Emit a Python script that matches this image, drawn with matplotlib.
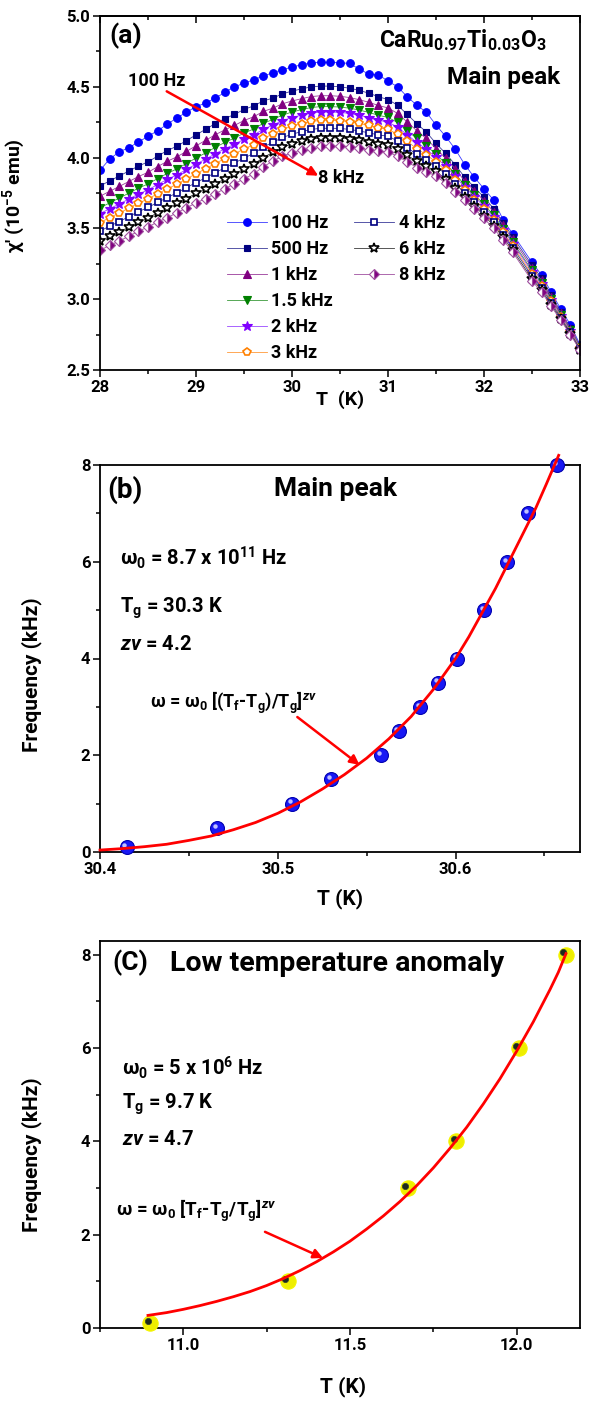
import matplotlib
matplotlib.use('Agg')
import matplotlib.pyplot as plt
import matplotlib.transforms as mtransforms
from matplotlib.ticker import MultipleLocator, FormatStrFormatter

FONT = 'Roboto'
plt.rcParams.update({
    'font.family': [FONT, 'DejaVu Sans'],
    'font.weight': 'bold',
    'axes.labelweight': 'bold',
    'mathtext.fontset': 'custom',
    'mathtext.rm': FONT + ':bold',
    'mathtext.it': FONT + ':italic:bold',
    'mathtext.bf': FONT + ':bold',
    'mathtext.default': 'regular',
    'axes.linewidth': 1.3,
})

# ---------------- data: panel (a) ----------------
T_a = [28.0, 28.1, 28.2, 28.3, 28.4, 28.5, 28.6, 28.7, 28.8, 28.9,
       29.0, 29.1, 29.2, 29.3, 29.4, 29.5, 29.6, 29.7, 29.8, 29.9,
       30.0, 30.1, 30.2, 30.3, 30.4, 30.5, 30.6, 30.7, 30.8, 30.9,
       31.0, 31.1, 31.2, 31.3, 31.4, 31.5, 31.6, 31.7, 31.8, 31.9,
       32.0, 32.1, 32.2, 32.3, 32.5, 32.6, 32.7, 32.8, 32.9, 33.0]

chi_100Hz = [3.91, 3.99, 4.04, 4.07, 4.11, 4.15, 4.19, 4.235, 4.28, 4.32,
             4.36, 4.385, 4.42, 4.46, 4.50, 4.525, 4.55, 4.575, 4.60, 4.62,
             4.64, 4.655, 4.67, 4.672, 4.672, 4.67, 4.665, 4.625, 4.59, 4.585,
             4.54, 4.50, 4.43, 4.37, 4.32, 4.23, 4.15, 4.06, 3.95, 3.86,
             3.78, 3.70, 3.56, 3.46, 3.26, 3.17, 3.05, 2.93, 2.82, 2.68]
chi_500Hz = [3.80, 3.835, 3.87, 3.905, 3.94, 3.97, 4.01, 4.05, 4.08, 4.12,
             4.16, 4.20, 4.24, 4.275, 4.305, 4.34, 4.365, 4.40, 4.42, 4.45,
             4.47, 4.485, 4.50, 4.505, 4.505, 4.50, 4.49, 4.475, 4.455, 4.43,
             4.41, 4.37, 4.305, 4.24, 4.18, 4.10, 4.03, 3.95, 3.86, 3.79,
             3.72, 3.64, 3.54, 3.44, 3.24, 3.15, 3.03, 2.91, 2.80, 2.67]
chi_1kHz = [3.727, 3.762, 3.796, 3.831, 3.866, 3.896, 3.936, 3.974, 4.005, 4.044,
            4.083, 4.122, 4.161, 4.196, 4.227, 4.262, 4.288, 4.326, 4.349, 4.380,
            4.400, 4.416, 4.431, 4.437, 4.437, 4.433, 4.424, 4.409, 4.391, 4.368,
            4.351, 4.312, 4.251, 4.190, 4.135, 4.063, 3.996, 3.920, 3.834, 3.766,
            3.696, 3.618, 3.521, 3.422, 3.222, 3.134, 3.017, 2.900, 2.792, 2.665]
chi_1p5kHz = [3.645, 3.680, 3.714, 3.749, 3.784, 3.814, 3.852, 3.888, 3.920, 3.958,
              3.997, 4.033, 4.072, 4.107, 4.138, 4.173, 4.202, 4.242, 4.269, 4.300,
              4.322, 4.339, 4.354, 4.360, 4.360, 4.357, 4.349, 4.336, 4.319, 4.299,
              4.284, 4.248, 4.191, 4.135, 4.085, 4.022, 3.959, 3.885, 3.806, 3.739,
              3.669, 3.592, 3.499, 3.403, 3.203, 3.116, 3.003, 2.890, 2.783, 2.660]
chi_2kHz = [3.604, 3.639, 3.672, 3.707, 3.742, 3.772, 3.810, 3.846, 3.878, 3.916,
            3.954, 3.989, 4.027, 4.062, 4.094, 4.129, 4.159, 4.200, 4.229, 4.261,
            4.283, 4.300, 4.315, 4.322, 4.322, 4.319, 4.312, 4.299, 4.283, 4.264,
            4.251, 4.215, 4.161, 4.107, 4.060, 4.001, 3.940, 3.868, 3.791, 3.725,
            3.655, 3.580, 3.488, 3.393, 3.193, 3.107, 2.996, 2.884, 2.778, 2.657]
chi_3kHz = [3.541, 3.576, 3.608, 3.643, 3.678, 3.708, 3.745, 3.779, 3.812, 3.849,
            3.886, 3.921, 3.958, 3.993, 4.026, 4.061, 4.091, 4.135, 4.166, 4.199,
            4.222, 4.240, 4.255, 4.263, 4.263, 4.261, 4.253, 4.241, 4.227, 4.211,
            4.199, 4.165, 4.114, 4.063, 4.020, 3.969, 3.910, 3.842, 3.769, 3.704,
            3.634, 3.560, 3.472, 3.377, 3.177, 3.093, 2.984, 2.876, 2.771, 2.653]
chi_4kHz = [3.481, 3.516, 3.548, 3.583, 3.618, 3.648, 3.684, 3.717, 3.751, 3.787,
            3.824, 3.857, 3.893, 3.928, 3.962, 3.997, 4.029, 4.074, 4.108, 4.142,
            4.165, 4.184, 4.199, 4.207, 4.207, 4.206, 4.199, 4.188, 4.175, 4.160,
            4.151, 4.118, 4.070, 4.023, 3.984, 3.939, 3.883, 3.817, 3.748, 3.685,
            3.615, 3.542, 3.456, 3.363, 3.163, 3.080, 2.974, 2.868, 2.765, 2.649]
chi_6kHz = [3.409, 3.444, 3.474, 3.509, 3.544, 3.574, 3.610, 3.641, 3.676, 3.711,
            3.747, 3.779, 3.814, 3.849, 3.884, 3.919, 3.952, 4.000, 4.037, 4.072,
            4.096, 4.115, 4.130, 4.139, 4.139, 4.139, 4.133, 4.122, 4.111, 4.099,
            4.092, 4.060, 4.017, 3.973, 3.939, 3.902, 3.849, 3.787, 3.722, 3.661,
            3.591, 3.520, 3.437, 3.345, 3.145, 3.064, 2.961, 2.858, 2.757, 2.644]
chi_8kHz = [3.345, 3.38, 3.41, 3.445, 3.48, 3.51, 3.545, 3.575, 3.61, 3.645,
            3.68, 3.71, 3.745, 3.78, 3.815, 3.85, 3.885, 3.935, 3.975, 4.01,
            4.035, 4.055, 4.07, 4.08, 4.08, 4.08, 4.075, 4.065, 4.055, 4.045,
            4.04, 4.01, 3.97, 3.93, 3.90, 3.87, 3.82, 3.76, 3.70, 3.64,
            3.57, 3.50, 3.42, 3.33, 3.13, 3.05, 2.95, 2.85, 2.75, 2.64]

labels_a = ['100 Hz', '500 Hz', '1 kHz', '1.5 kHz', '2 kHz', '3 kHz',
            '4 kHz', '6 kHz', '8 kHz']
series_a = [chi_100Hz, chi_500Hz, chi_1kHz, chi_1p5kHz, chi_2kHz, chi_3kHz,
            chi_4kHz, chi_6kHz, chi_8kHz]

# ---------------- data: panel (b) ----------------
T_b = [30.415, 30.466, 30.508, 30.530, 30.558, 30.568, 30.580, 30.590,
       30.601, 30.616, 30.629, 30.641, 30.657]
f_b = [0.1, 0.5, 1.0, 1.5, 2.0, 2.5, 3.0, 3.5, 4.0, 5.0, 6.0, 7.0, 8.0]
fitT_b = [30.400, 30.4125, 30.425, 30.4375, 30.450, 30.4625, 30.475, 30.4875,
          30.500, 30.5125, 30.525, 30.5375, 30.550, 30.5625, 30.575, 30.5875,
          30.600, 30.6075, 30.615, 30.6225, 30.630, 30.6375, 30.645, 30.651, 30.658]
fitf_b = [0.04, 0.07, 0.11, 0.16, 0.24, 0.33, 0.46, 0.61,
          0.80, 1.03, 1.30, 1.60, 1.94, 2.34, 2.80, 3.36,
          4.00, 4.45, 4.95, 5.45, 6.00, 6.55, 7.10, 7.60, 8.20]

# ---------------- data: panel (c) ----------------
T_c = [10.900, 11.313, 11.673, 11.819, 12.006, 12.148]
f_c = [0.1, 1.0, 3.0, 4.0, 6.0, 8.0]
T_c_dot = [10.894, 11.306, 11.665, 11.811, 11.998, 12.140]
f_c_dot = [0.14, 1.04, 3.05, 4.05, 6.05, 8.05]
fitT_c = [10.894, 10.95, 11.0, 11.05, 11.1, 11.15, 11.2, 11.25, 11.3, 11.35,
          11.4, 11.45, 11.5, 11.55, 11.6, 11.65, 11.7, 11.75, 11.8, 11.85,
          11.9, 11.95, 12.0, 12.05, 12.1, 12.125, 12.148]
fitf_c = [0.27, 0.33, 0.40, 0.48, 0.57, 0.67, 0.78, 0.91, 1.06, 1.23,
          1.42, 1.63, 1.86, 2.12, 2.40, 2.71, 3.05, 3.43, 3.85, 4.30,
          4.80, 5.34, 5.93, 6.56, 7.25, 7.62, 8.02]

# ---------------- styles ----------------
styles_a = [
    dict(marker='o', mfc='#0000ff', mec='#0000ff', ms=5.5, lc='#3a3aff'),
    dict(marker='s', mfc='#000080', mec='#000080', ms=5.0, lc='#3a3a9a'),
    dict(marker='^', mfc='#800080', mec='#800080', ms=6.0, lc='#9a3a9a'),
    dict(marker='v', mfc='#008000', mec='#008000', ms=6.0, lc='#3a9a3a'),
    dict(marker='*', mfc='#8000ff', mec='#8000ff', ms=7.5, lc='#9a4aff'),
    dict(marker='p', mfc='white', mec='#ff8000', ms=6.0, lc='#ff9a3a'),
    dict(marker='s', mfc='white', mec='#000080', ms=5.0, lc='#3a3a9a'),
    dict(marker='*', mfc='white', mec='#000000', ms=7.5, lc='#3a3a3a'),
    dict(marker='D', mfc='#800080', mec='#a050a0', ms=5.0, lc='#a050a0'),
]

W, H = 589, 1405
fig = plt.figure(figsize=(W / 100, H / 100), dpi=100)
axA = fig.add_axes([100 / W, 1 - 370 / H, 480 / W, 354 / H])
axB = fig.add_axes([100 / W, 1 - 852 / H, 480 / W, 387 / H])
axC = fig.add_axes([100 / W, 1 - 1328 / H, 480 / W, 387 / H])

# ---------------- panel (a) ----------------
handles = []
for y, lab, st in zip(series_a, labels_a, styles_a):
    kw = {}
    if lab == '8 kHz':
        kw = dict(fillstyle='right', markerfacecoloralt='white')
    mew = 1.2 if st['mfc'] == 'white' else 0.8
    h, = axA.plot(T_a, y, linestyle='-', lw=0.6, color=st['lc'], marker=st['marker'],
                  ms=st['ms'], mfc=st['mfc'], mec=st['mec'], mew=mew, label=lab, **kw)
    handles.append(h)

axA.set_xlim(28, 33)
axA.set_ylim(2.5, 5.0)
axA.xaxis.set_major_locator(MultipleLocator(1))
axA.xaxis.set_minor_locator(MultipleLocator(0.5))
axA.yaxis.set_major_locator(MultipleLocator(0.5))
axA.yaxis.set_minor_locator(MultipleLocator(0.25))
axA.yaxis.set_major_formatter(FormatStrFormatter('%.1f'))
secA = axA.secondary_xaxis('top')
secA.xaxis.set_major_locator(MultipleLocator(1))
secA.xaxis.set_minor_locator(MultipleLocator(0.5))
secA.tick_params(which='both', direction='in', labeltop=False, width=1.1)
secA.tick_params(which='major', length=5)
secA.tick_params(which='minor', length=3)

legkw = dict(loc='upper left', frameon=False, fontsize=13, handlelength=2.2,
             handletextpad=0.25, labelspacing=0.44, borderpad=0, borderaxespad=0,
             numpoints=1)
leg1 = axA.legend(handles=handles[:6], bbox_to_anchor=(0.265, 0.44), **legkw)
axA.add_artist(leg1)
axA.legend(handles=handles[6:], bbox_to_anchor=(0.53, 0.44), **legkw)

axA.annotate('', xy=(30.274, 3.872), xytext=(28.695, 4.468),
             arrowprops=dict(arrowstyle='-|>', color='#ff0000', lw=1.8,
                             mutation_scale=14, shrinkA=0, shrinkB=0))
axA.text(28.29, 4.542, '100 Hz', fontsize=13, ha='left', va='center')
axA.text(30.27, 3.856, '8 kHz', fontsize=13, ha='left', va='center')
axA.text(0.02, 0.944, '(a)', transform=axA.transAxes, fontsize=19, ha='left', va='center')
axA.text(0.931, 0.932, 'CaRu$_{0.97}$Ti$_{0.03}$O$_3$', transform=axA.transAxes,
         fontsize=16.5, ha='right', va='center')
axA.text(0.958, 0.825, 'Main peak', transform=axA.transAxes, fontsize=17.5,
         ha='right', va='center')
axA.set_xlabel('T  (K)', fontsize=14)
axA.set_ylabel("χ' (10$^{-5}$ emu)", fontsize=14)
axA.xaxis.set_label_coords(0.5, -0.056)
axA.yaxis.set_label_coords(-0.15, 0.494)

# ---------------- panel (b) ----------------
off = mtransforms.offset_copy(axB.transData, fig=fig, x=-1.6, y=1.6, units='points')
axB.plot(T_b, f_b, linestyle='none', marker='o', ms=10, mfc='#1818f4', mec='#0000b0',
         mew=0.8, clip_on=False, zorder=3)
axB.plot(T_b, f_b, linestyle='none', marker='o', ms=3.2, mfc='#c0c0ff', mec='none',
         transform=off, clip_on=False, zorder=4)
axB.plot(fitT_b, fitf_b, color='#ff0000', lw=2.0, clip_on=False, zorder=5)
axB.set_xlim(30.4, 30.67)
axB.set_ylim(0, 8)
axB.xaxis.set_major_locator(MultipleLocator(0.1))
axB.xaxis.set_minor_locator(MultipleLocator(0.05))
axB.yaxis.set_major_locator(MultipleLocator(2))
axB.yaxis.set_minor_locator(MultipleLocator(1))
axB.xaxis.set_major_formatter(FormatStrFormatter('%.1f'))
axB.text(0.015, 0.935, '(b)', transform=axB.transAxes, fontsize=20, ha='left', va='center')
axB.text(0.49, 0.938, 'Main peak', transform=axB.transAxes, fontsize=19, ha='center', va='center')
axB.text(30.411, 6.08, 'ω$_0$ = 8.7 x 10$^{11}$ Hz', fontsize=14.5, ha='left', va='center')
axB.text(30.411, 5.04, 'T$_g$ = 30.3 K', fontsize=14.5, ha='left', va='center')
axB.text(30.411, 4.28, r'$\mathit{z\nu}$ = 4.2', fontsize=14.5, ha='left', va='center')
axB.text(30.428, 3.08, r'ω = ω$_0$ [(T$_f$-T$_g$)/T$_g$]$^{\mathit{z\nu}}$', fontsize=13,
         ha='left', va='center')
axB.annotate('', xy=(30.546, 1.80), xytext=(30.511, 2.79),
             arrowprops=dict(arrowstyle='-|>', color='#ff0000', lw=1.8,
                             mutation_scale=14, shrinkA=0, shrinkB=0))
axB.set_xlabel('T (K)', fontsize=15)
axB.set_ylabel('Frequency (kHz)', fontsize=15)
axB.xaxis.set_label_coords(0.5, -0.093)
axB.yaxis.set_label_coords(-0.121, 0.457)

# ---------------- panel (c) ----------------
axC.plot(T_c, f_c, linestyle='none', marker='o', ms=11, mfc='#eeee00', mec='#f4f400',
         mew=0.8, clip_on=False, zorder=3)
axC.plot(T_c_dot, f_c_dot, linestyle='none', marker='o', ms=4.5, mfc='#1c2a1c', mec='#304030',
         mew=0.5, clip_on=False, zorder=4)
axC.plot(fitT_c, fitf_c, color='#ff0000', lw=2.0, clip_on=False, zorder=5)
axC.set_xlim(10.75, 12.19)
axC.set_ylim(0, 8.29)
axC.xaxis.set_major_locator(MultipleLocator(0.5))
axC.xaxis.set_minor_locator(MultipleLocator(0.25))
axC.yaxis.set_major_locator(MultipleLocator(2))
axC.yaxis.set_minor_locator(MultipleLocator(1))
axC.xaxis.set_major_formatter(FormatStrFormatter('%.1f'))
axC.text(0.025, 0.943, '(C)', transform=axC.transAxes, fontsize=19, ha='left', va='center')
axC.text(0.146, 0.943, 'Low temperature anomaly', transform=axC.transAxes, fontsize=20.5,
         ha='left', va='center')
axC.text(10.816, 5.57, 'ω$_0$ = 5 x 10$^6$ Hz', fontsize=14.5, ha='left', va='center')
axC.text(10.816, 4.80, 'T$_g$ = 9.7 K', fontsize=14.5, ha='left', va='center')
axC.text(10.816, 4.03, r'$\mathit{z\nu}$ = 4.7', fontsize=14.5, ha='left', va='center')
axC.text(10.798, 2.50, r'ω = ω$_0$ [T$_f$-T$_g$/T$_g$]$^{\mathit{z\nu}}$', fontsize=13.5,
         ha='left', va='center')
axC.annotate('', xy=(11.419, 1.50), xytext=(11.245, 2.06),
             arrowprops=dict(arrowstyle='-|>', color='#ff0000', lw=1.8,
                             mutation_scale=14, shrinkA=0, shrinkB=0))
axC.set_xlabel('T (K)', fontsize=15)
axC.set_ylabel('Frequency (kHz)', fontsize=15)
axC.xaxis.set_label_coords(0.506, -0.124)
axC.yaxis.set_label_coords(-0.121, 0.447)

for ax in (axA, axB, axC):
    ax.tick_params(which='both', direction='out', top=False, right=False,
                   labelsize=12, width=1.1)
    ax.tick_params(which='major', length=5, pad=2)
    ax.tick_params(which='minor', length=3)
    for lab in ax.get_xticklabels() + ax.get_yticklabels():
        lab.set_fontweight('bold')

fig.savefig('out.png', dpi=100)
